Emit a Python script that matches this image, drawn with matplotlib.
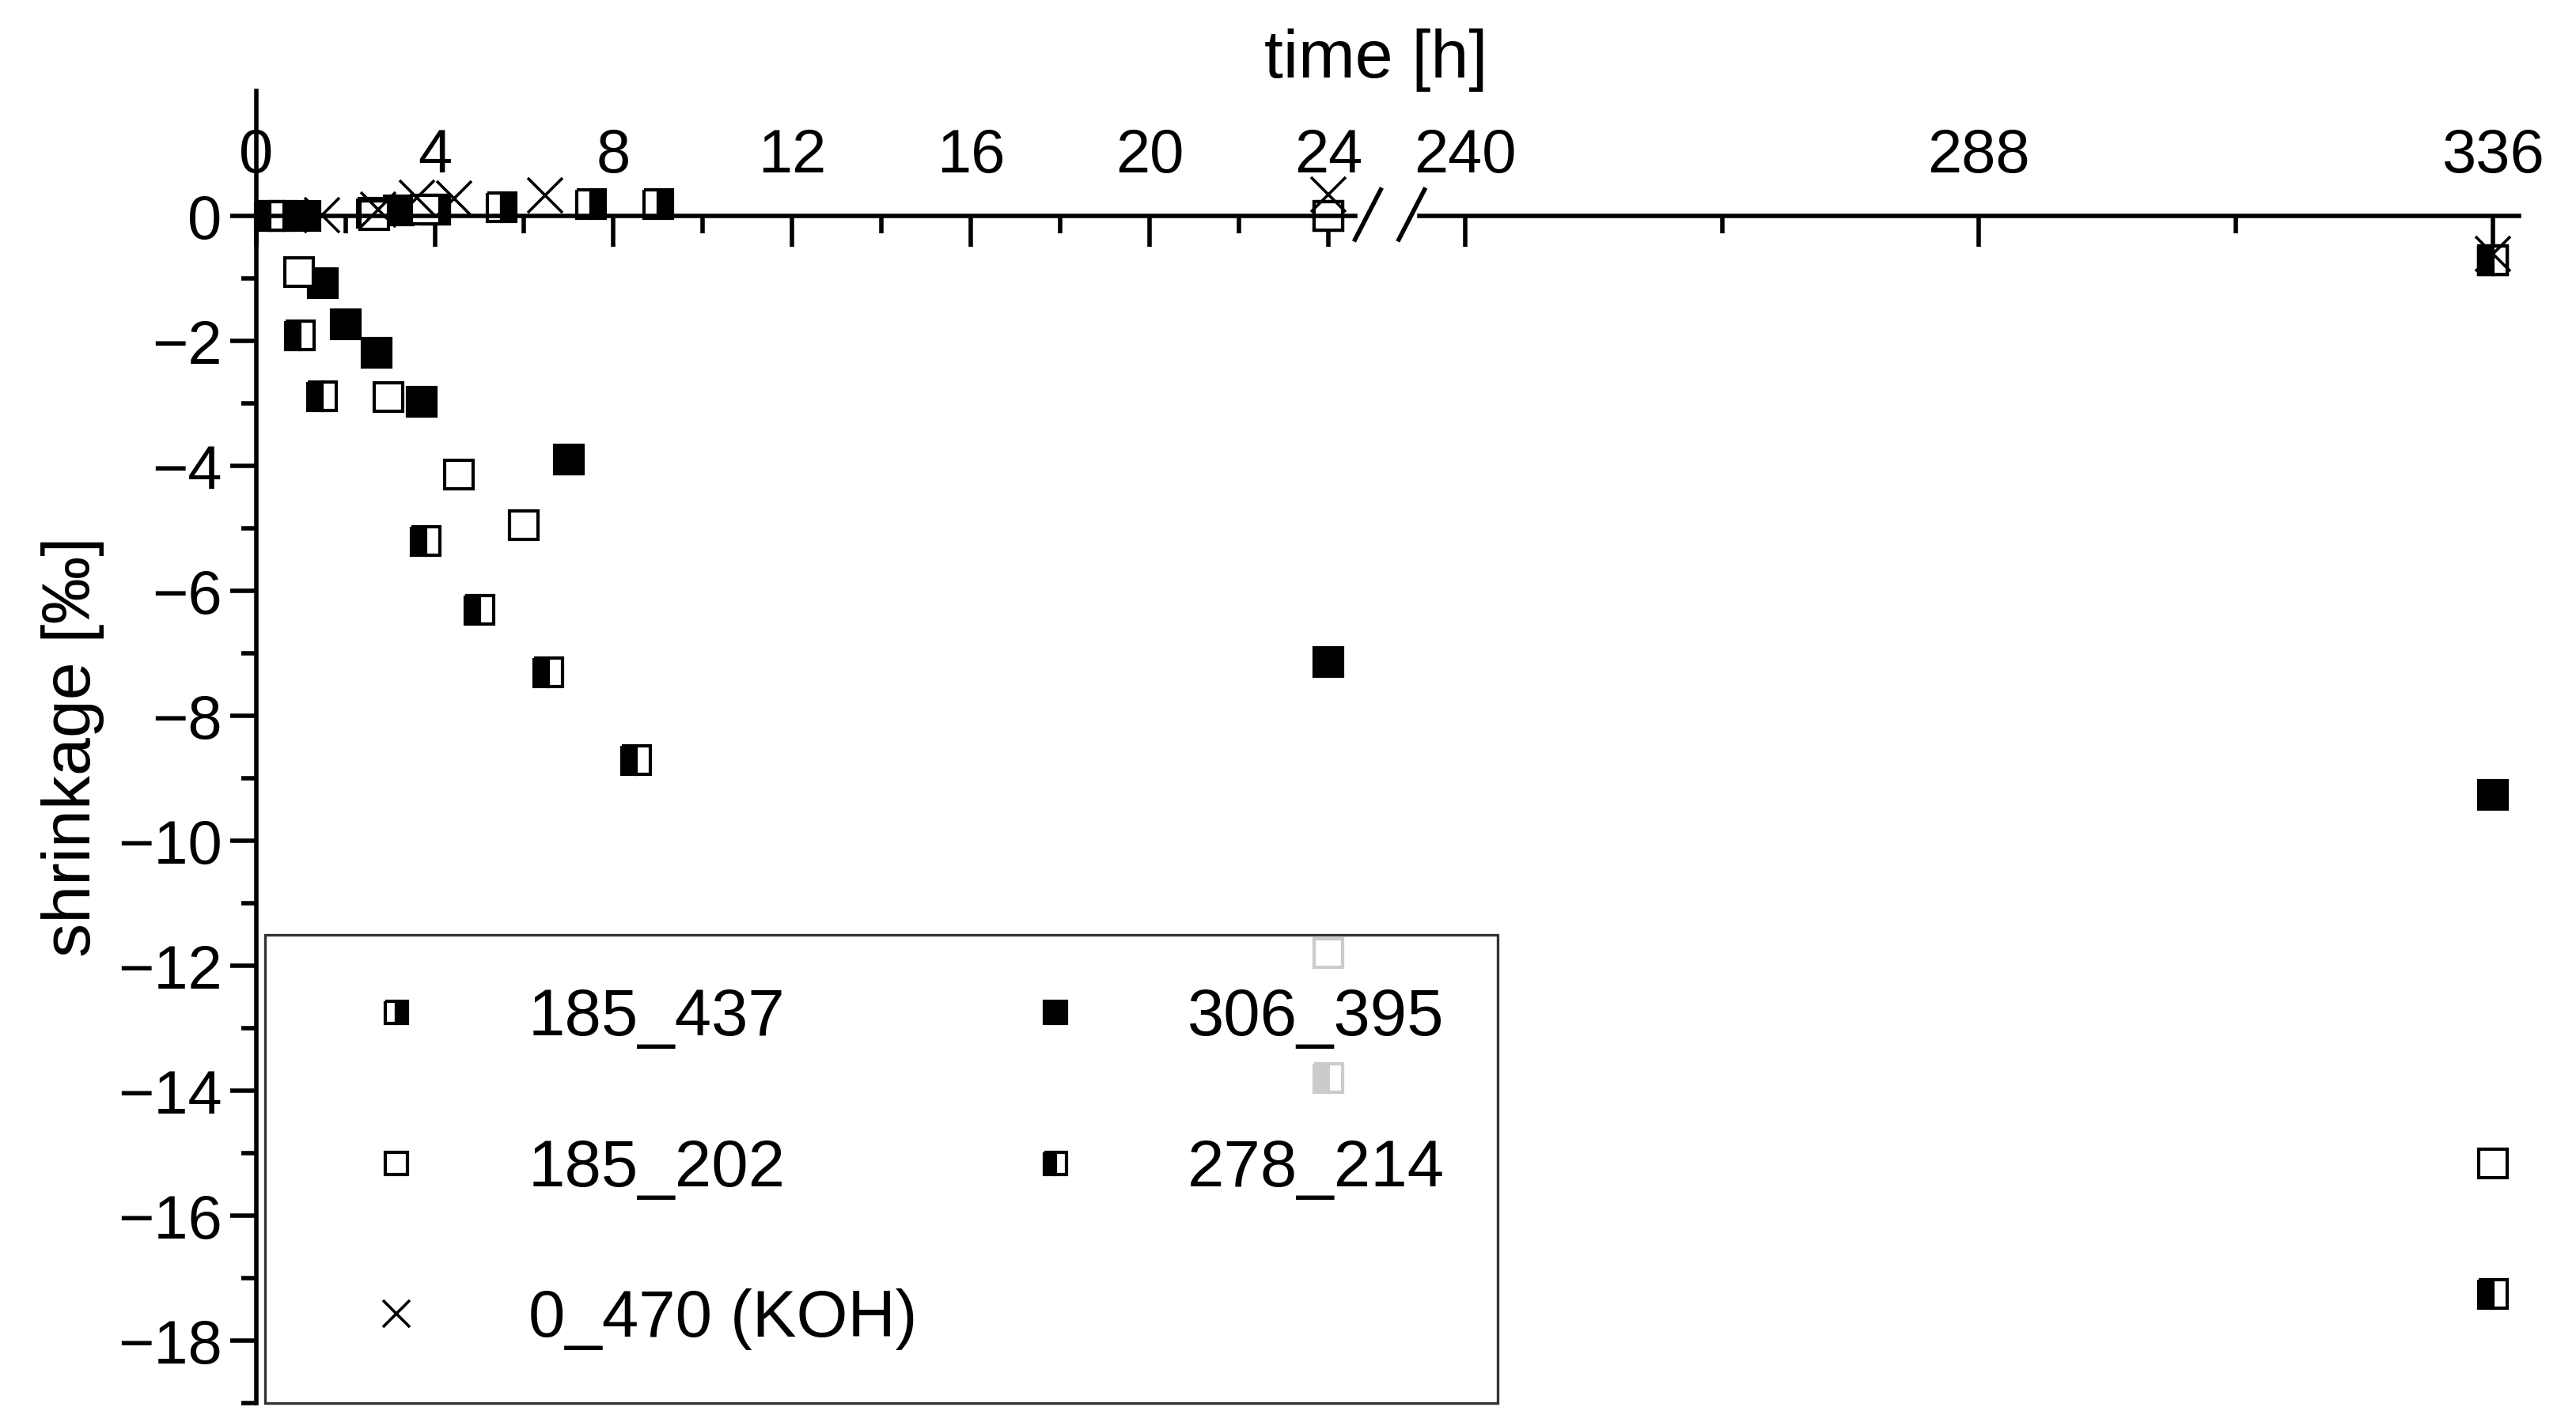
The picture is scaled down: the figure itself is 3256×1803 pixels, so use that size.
import matplotlib.pyplot as plt
from matplotlib.lines import Line2D

plt.rcParams['font.family'] = ['Liberation Sans', 'DejaVu Sans']

# shrinkage data [‰] vs time [h]
t_185_437 = [0.6, 2.6, 4.0, 5.5, 7.5, 9.0, 24, 336]
v_185_437 = [0.0, 0.05, 0.1, 0.15, 0.19, 0.2, 0.0, -0.7]
t_306_395 = [0.4, 1.1, 1.5, 2.0, 2.7, 3.2, 3.7, 4.0, 7.0, 24, 24, 336, 336]
v_306_395 = [0.0, 0.0, -1.07, -1.73, -2.18, 0.09, -2.97, 0.1, -3.89, -7.14, 0.0, -9.26, -0.7]
t_185_202 = [0.97, 2.64, 2.96, 3.8, 4.54, 6.0, 24, 24, 336, 336]
v_185_202 = [-0.9, 0.02, -2.89, 0.1, -4.13, -4.95, 0.0, -11.8, -0.7, -15.16]
t_278_214 = [0.3, 0.98, 1.48, 3.8, 5.0, 6.54, 8.5, 24, 336, 336]
v_278_214 = [0.0, -1.91, -2.88, -5.2, -6.3, -7.3, -8.7, -13.8, -17.25, -0.7]
t_koh = [1.47, 2.74, 3.6, 4.44, 6.47, 24, 336]
v_koh = [0.02, 0.1, 0.3, 0.28, 0.34, 0.35, -0.6]

fig = plt.figure(figsize=(16.28, 9.015), dpi=200)
ax1 = fig.add_axes([0.0994, 0.016, 0.4266, 0.920])
ax2 = fig.add_axes([0.551, 0.016, 0.427, 0.920], sharey=ax1)

ms = 13
styles = {
    '185_437': dict(marker='s', ls='none', ms=ms, mec='black', mew=1.5, fillstyle='left',
                    markerfacecolor='white', markerfacecoloralt='black'),
    '306_395': dict(marker='s', ls='none', ms=ms, mec='black', mew=1.5, mfc='black'),
    '185_202': dict(marker='s', ls='none', ms=ms, mec='black', mew=1.5, mfc='white'),
    '278_214': dict(marker='s', ls='none', ms=ms, mec='black', mew=1.5, fillstyle='left',
                    markerfacecolor='black', markerfacecoloralt='white'),
    '0_470 (KOH)': dict(marker='x', ls='none', ms=ms + 3, mec='black', mew=1.3),
}
series = {
    '185_437': (t_185_437, v_185_437),
    '306_395': (t_306_395, v_306_395),
    '185_202': (t_185_202, v_185_202),
    '278_214': (t_278_214, v_278_214),
    '0_470 (KOH)': (t_koh, v_koh),
}
for ax in (ax1, ax2):
    for name, (t, v) in series.items():
        ax.plot(t, v, **styles[name], clip_on=False)

ax1.set_xlim(0, 24.6)
ax2.set_xlim(235.7, 338.5)
ax1.set_ylim(-19.0, 2.0)

for ax in (ax1, ax2):
    ax.spines['right'].set_visible(False)
    ax.spines['bottom'].set_visible(False)
    ax.spines['top'].set_position(('data', 0))
    ax.spines['top'].set_linewidth(2)
    ax.spines['left'].set_linewidth(2)
    ax.xaxis.set_ticks_position('top')
    ax.tick_params(axis='x', which='both', direction='in', labelsize=28, width=2, pad=14)
    ax.tick_params(axis='x', which='major', length=14)
    ax.tick_params(axis='x', which='minor', length=8)
    ax.set_facecolor('none')

ax1.set_xticks([0, 4, 8, 12, 16, 20, 24])
ax1.set_xticks([2, 6, 10, 14, 18, 22], minor=True)
ax2.set_xticks([240, 288, 336])
ax2.set_xticks([264, 312], minor=True)
ax2.spines['left'].set_visible(False)
ax2.tick_params(axis='y', which='both', left=False, labelleft=False)

ax1.set_yticks(range(-18, 1, 2))
ax1.set_yticks(range(-19, 1, 2), minor=True)
ax1.set_yticklabels(['\u2212%d' % -v if v < 0 else '0' for v in range(-18, 1, 2)])
ax1.tick_params(axis='y', which='both', direction='out', labelsize=28, width=2)
ax1.tick_params(axis='y', which='major', length=12)
ax1.tick_params(axis='y', which='minor', length=7)
ax1.set_ylabel('shrinkage [‰]', fontsize=31, labelpad=6)

fig.text(0.534, 0.958, 'time [h]', ha='center', va='center', fontsize=31)

# axis break marks
for xb in (0.531, 0.548):
    fig.add_artist(Line2D([xb - 0.005, xb + 0.005], [0.832, 0.867], color='black', lw=2))

handles = [Line2D([], [], **styles[n]) for n in ['185_437', '185_202', '0_470 (KOH)', '306_395', '278_214']]
labels = ['185_437', '185_202', '0_470 (KOH)', '306_395', '278_214']
leg = ax1.legend(handles, labels, ncol=2, loc='lower left', bbox_to_anchor=(0.008, 0.0),
                 fontsize=30, markerscale=0.75, frameon=True, fancybox=False, edgecolor='black',
                 borderpad=0.8, labelspacing=1.35, columnspacing=0.9, handletextpad=0.8,
                 handlelength=2.4, borderaxespad=0)
leg.get_frame().set_linewidth(1.2)

fig.savefig('out.png', dpi=200)
